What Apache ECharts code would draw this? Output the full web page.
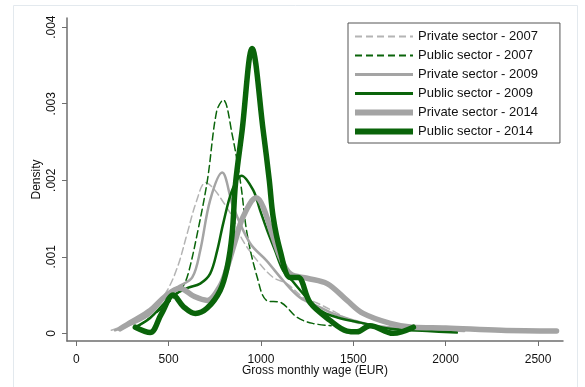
<!DOCTYPE html>
<html>
<head>
<meta charset="utf-8">
<script src="https://cdn.jsdelivr.net/npm/echarts@6/dist/echarts.min.js"></script>
<style>
  html, body { margin: 0; padding: 0; background: #fff; }
  #chart { width: 585px; height: 387px; }
</style>
</head>
<body>
<div id="chart"></div>
<script>
// series names, same order as the legend
var seriesNames = [
    "Private sector - 2007", "Public sector - 2007",
    "Private sector - 2009", "Public sector - 2009",
    "Private sector - 2014", "Public sector - 2014"
];
var xTicks = [0, 500, 1000, 1500, 2000, 2500];
var yTicks = [0, 0.001, 0.002, 0.003, 0.004];

// [wage, density]
var private2007 = [[190,0.00004],[290,0.00013],[400,0.00026],[490,0.00055],[550,0.00088],[600,0.0013],[650,0.00172],[700,0.00197],[740,0.0019],[800,0.0017],[850,0.0015],[900,0.00122],[980,0.00095],[1066,0.00073],[1140,0.00065],[1228,0.00047],[1300,0.0004],[1400,0.00028],[1500,0.00015],[1620,0.0001],[1800,0.00006],[2000,0.00003]];
var public2007 = [[340,0.0001],[450,0.0003],[520,0.00045],[575,0.0006],[606,0.00078],[655,0.0013],[710,0.002],[760,0.0029],[796,0.00305],[844,0.0026],[890,0.00196],[925,0.0013],[980,0.00073],[1030,0.00043],[1110,0.0004],[1195,0.00021],[1280,0.00013],[1380,0.0001]];
var private2009 = [[210,0.00004],[300,0.00012],[400,0.00025],[500,0.00052],[560,0.00062],[628,0.00073],[671,0.00108],[725,0.00174],[790,0.0021],[850,0.00165],[940,0.00118],[1030,0.00095],[1120,0.00069],[1210,0.00047],[1320,0.00034],[1400,0.00025],[1500,0.00017],[1620,0.0001],[1800,0.00006],[2000,0.00004],[2100,0.00003]];
var public2009 = [[320,0.00008],[400,0.0002],[510,0.00047],[600,0.00059],[671,0.00065],[725,0.00078],[763,0.00108],[796,0.00144],[844,0.00187],[895,0.00206],[958,0.00187],[995,0.00161],[1033,0.00135],[1077,0.00108],[1120,0.00082],[1168,0.00069],[1228,0.00052],[1320,0.0003],[1410,0.00021],[1537,0.00014],[1700,0.00006],[1900,0.00003],[2060,0.00001]];
var private2014 = [[238,0.00006],[300,0.00015],[400,0.0003],[480,0.00048],[560,0.00059],[640,0.00048],[709,0.00043],[779,0.00062],[817,0.00086],[860,0.0012],[903,0.00152],[975,0.00177],[1012,0.00165],[1060,0.0013],[1104,0.001],[1158,0.00078],[1250,0.00072],[1358,0.00065],[1466,0.00043],[1553,0.00026],[1700,0.00013],[1820,0.00008],[2000,0.00007],[2300,0.00004],[2600,0.00003]];
var public2014 = [[320,0.00008],[400,0.00001],[460,0.00025],[525,0.0005],[580,0.00035],[645,0.00026],[709,0.00033],[779,0.00056],[817,0.00086],[844,0.0013],[862,0.00195],[898,0.00265],[952,0.00372],[1012,0.00265],[1045,0.002],[1066,0.00152],[1104,0.00108],[1158,0.00073],[1201,0.00073],[1266,0.0004],[1374,0.00017],[1466,0.00003],[1520,0.00002],[1590,0.0001],[1715,0.0],[1825,0.00008]];

var allData = [private2007, public2007, private2009, public2009, private2014, public2014];
var colors = ["#b4b4b4", "#0a640a", "#a4a4a4", "#0a640a", "#a4a4a4", "#0a640a"];
var widths = [1.5, 1.5, 2.5, 2.5, 5.5, 5.5];
var dashes = [[7, 4], [7, 4], "solid", "solid", "solid", "solid"];

var myChart = echarts.init(document.getElementById("chart"));

var series = [];
var legendData = [];
for (var i = 0; i < allData.length; i++) {
    series.push({
        name: seriesNames[i],
        type: "line",
        data: allData[i],
        smooth: 0.35,
        symbol: "none",
        animation: false,
        lineStyle: { color: colors[i], width: widths[i], type: dashes[i], cap: "round", join: "round" },
        itemStyle: { color: colors[i] }
    });
    legendData.push({
        name: seriesNames[i],
        itemStyle: { opacity: 0 },
        lineStyle: { color: colors[i], width: widths[i] + 0.5, type: dashes[i], cap: "butt" }
    });
}

var option = {
    backgroundColor: "#fff",
    textStyle: { fontFamily: "Liberation Sans, Arial, sans-serif" },
    graphic: [{
        type: "rect",
        left: 11, top: 3,
        shape: { width: 564, height: 400 },
        style: { fill: "none", stroke: "#e3e9ee", lineWidth: 1 },
        silent: true
    }],
    grid: { left: 67, right: 22, top: 18, bottom: 46 },
    legend: {
        orient: "vertical",
        left: 348, top: 23,
        itemWidth: 58, itemHeight: 12, itemGap: 6,
        padding: [7, 22, 5, 4],
        backgroundColor: "#fff",
        borderColor: "#555",
        borderWidth: 1,
        borderRadius: 0,
        itemStyle: { opacity: 0 },
        data: legendData,
        textStyle: { fontSize: 13, lineHeight: 12, color: "#111", fontFamily: "Liberation Sans, Arial, sans-serif" }
    },
    xAxis: {
        type: "value",
        min: -50, max: 2635,
        name: "Gross monthly wage (EUR)",
        nameLocation: "middle",
        nameGap: 24,
        nameMoveOverlap: false,
        nameTextStyle: { fontSize: 12, color: "#111" },
        splitLine: { show: false },
        axisLine: { show: true, onZero: false, lineStyle: { color: "#6e6e6e", width: 1.5 } },
        axisTick: { show: true, length: 5, lineStyle: { color: "#6e6e6e" }, customValues: xTicks },
        axisLabel: {
            fontSize: 12, color: "#111", margin: 13, customValues: xTicks,
            formatter: function (v) { return String(v); }
        }
    },
    yAxis: {
        type: "value",
        min: -0.0001, max: 0.00412,
        name: "Density",
        nameLocation: "middle",
        nameGap: 24,
        nameMoveOverlap: false,
        nameRotate: 90,
        nameTextStyle: { fontSize: 12, color: "#111" },
        splitLine: { show: false },
        axisLine: { show: true, onZero: false, lineStyle: { color: "#6e6e6e", width: 1.5 } },
        axisTick: { show: true, length: 5, lineStyle: { color: "#6e6e6e" }, customValues: yTicks },
        axisLabel: {
            fontSize: 12, color: "#111", margin: 9, rotate: 90,
            customValues: yTicks,
            formatter: function (v) {
                if (v === 0) return "0";
                return v.toFixed(3).replace(/^0/, "");
            }
        }
    },
    series: series
};
myChart.setOption(option);
</script>
</body>
</html>
